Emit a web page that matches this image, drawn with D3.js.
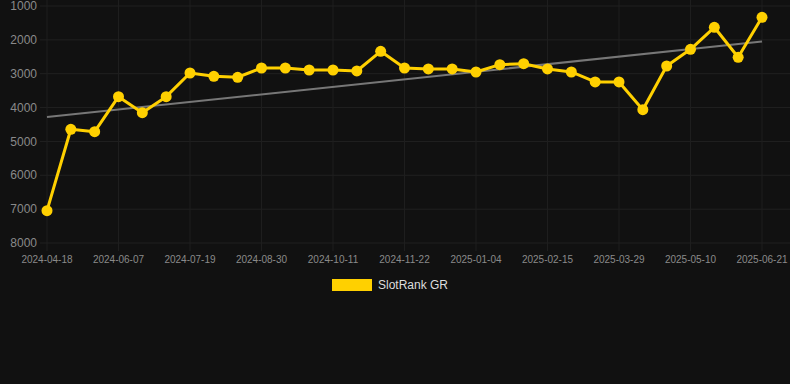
<!DOCTYPE html>
<html><head><meta charset="utf-8">
<script src="https://cdn.jsdelivr.net/npm/d3@7"></script>
<style>
html,body{margin:0;padding:0;background:#111111;}
svg{display:block;}
</style></head>
<body>
<script>
const categories = ["2024-04-18","2024-05-02","2024-05-24","2024-06-07","2024-06-21","2024-07-05","2024-07-19","2024-08-02","2024-08-16","2024-08-30","2024-09-13","2024-09-27","2024-10-11","2024-10-25","2024-11-08","2024-11-22","2024-12-06","2024-12-20","2025-01-04","2025-01-18","2025-02-01","2025-02-15","2025-03-01","2025-03-15","2025-03-29","2025-04-12","2025-04-26","2025-05-10","2025-05-24","2025-06-07","2025-06-21"];
const rankValues = [7045,4641,4712,3678,4151,3678,2979,3076,3105,2831,2831,2890,2890,2919,2338,2831,2860,2860,2949,2733,2704,2860,2949,3244,3244,4062,2772,2279,1629,2515,1334];
const trendValues = [4280, 2050];
const yTicks = [1000,2000,3000,4000,5000,6000,7000,8000];
const seriesName = "SlotRank GR";

const W = 790, H = 384;
const svg = d3.select("body").append("svg").attr("width", W).attr("height", H);
svg.append("rect").attr("width", W).attr("height", H).attr("fill", "#111111");

const x = d3.scalePoint().domain(categories).range([47, 762]);
const y = d3.scaleLinear().domain([1000, 8000]).range([6, 243]);

// horizontal grid
svg.append("g").selectAll("line").data(yTicks).join("line")
  .attr("x1", 40).attr("x2", W).attr("y1", d => y(d)).attr("y2", d => y(d))
  .attr("stroke", "#212121").attr("stroke-width", 1);

// vertical grid every 3rd category
const xTickCats = categories.filter((d, i) => i % 3 === 0);
svg.append("g").selectAll("line").data(xTickCats).join("line")
  .attr("x1", d => x(d)).attr("x2", d => x(d)).attr("y1", 0).attr("y2", 251)
  .attr("stroke", "#1e1e1e").attr("stroke-width", 1);

// y labels
svg.append("g").selectAll("text").data(yTicks).join("text")
  .attr("x", 37).attr("y", d => y(d)).attr("dy", "0.35em")
  .attr("text-anchor", "end").attr("fill", "#8a8a8a")
  .attr("font-family", "Liberation Sans, Arial, sans-serif").attr("font-size", 12)
  .text(d => d);

// x labels
svg.append("g").selectAll("text").data(xTickCats).join("text")
  .attr("x", d => x(d)).attr("y", 259).attr("dy", "0.35em")
  .attr("text-anchor", "middle").attr("fill", "#8a8a8a")
  .attr("font-family", "Liberation Sans, Arial, sans-serif").attr("font-size", 10)
  .text(d => d);

// trend line
svg.append("line")
  .attr("x1", x(categories[0])).attr("y1", y(trendValues[0]))
  .attr("x2", x(categories[categories.length - 1])).attr("y2", y(trendValues[1]))
  .attr("stroke", "#777777").attr("stroke-width", 2);

// data line
const line = d3.line().x((d, i) => x(categories[i])).y(d => y(d));
svg.append("path").datum(rankValues).attr("d", line)
  .attr("fill", "none").attr("stroke", "#FFD000").attr("stroke-width", 3)
  .attr("stroke-linejoin", "round");

svg.append("g").selectAll("circle").data(rankValues).join("circle")
  .attr("cx", (d, i) => x(categories[i])).attr("cy", d => y(d)).attr("r", 5.5)
  .attr("fill", "#FFD000");

// legend
svg.append("rect").attr("x", 332).attr("y", 279).attr("width", 40).attr("height", 12).attr("fill", "#FFD000");
svg.append("text").attr("x", 378).attr("y", 285).attr("dy", "0.35em")
  .attr("fill", "#dddddd").attr("font-family", "Liberation Sans, Arial, sans-serif").attr("font-size", 12)
  .text(seriesName);
</script>
</body></html>
